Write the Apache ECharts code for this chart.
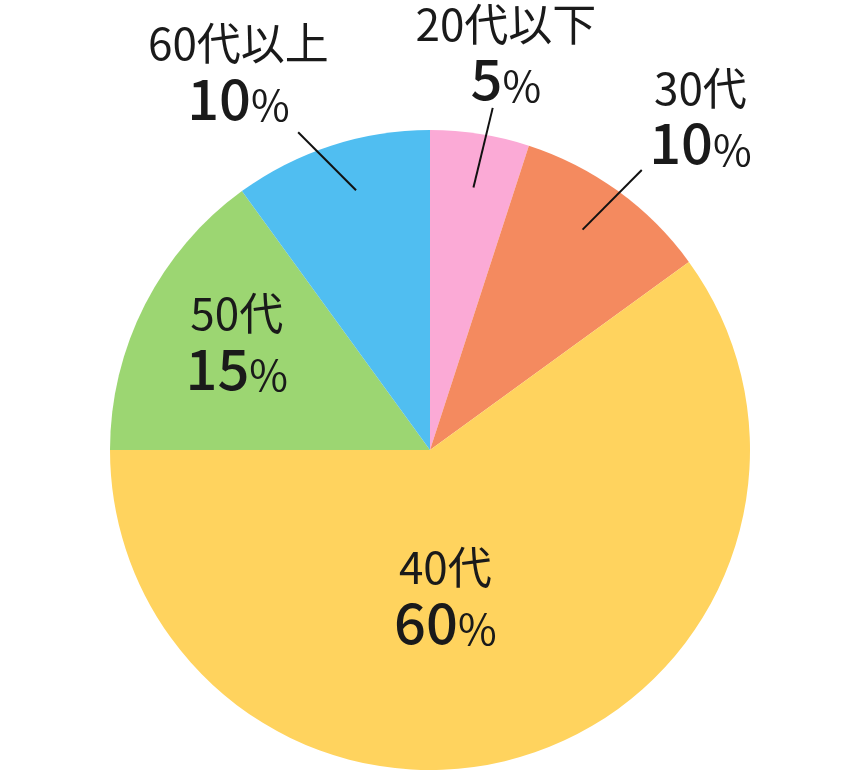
<!DOCTYPE html>
<html><head><meta charset="utf-8">
<script src="https://cdn.jsdelivr.net/npm/echarts@6/dist/echarts.min.js"></script>
<style>html,body{margin:0;padding:0;background:#fff}#c{width:860px;height:770px}</style>
</head><body><div id="c"></div>
<script>
// ---- data ----
const categories = ['20代以下', '30代', '40代', '50代', '60代以上'];
const values = [5, 10, 60, 15, 10];
const sliceColors = ['#FBAAD6', '#F48A5F', '#FFD35E', '#9CD672', '#50BEF1'];
const insideLabel = [false, false, true, true, false];

// ---- layout / style constants ----
const CX = 430, CY = 450, R = 320;
const FONT = '"Noto Sans CJK JP", "Noto Sans", sans-serif';
const TEXT_COLOR = '#1a1a1a';
// outside leader lines: start radius, start angle offset (deg), direction tilt (deg), length
const LINE_CFG = {
  0: { r: 266, da: 0.4, tilt: 4.6, len: 82 },
  1: { r: 268, da: -1.3, tilt: 8.8, len: 84 },
  4: { r: 270, da: 2.1, tilt: -26.9, len: 82 }
};
// label offsets (outside: from line end; inside: from default label centre)
const LABEL_OFF = { 0: [8, -2], 1: [55, -2], 4: [-55, -8], 2: [-35, -8], 3: [-48, -33] };

function midAngleOf(pt) { return Math.atan2(pt[0] - CX, -(pt[1] - CY)); }
function leaderLine(i, p1) {
  const mid = midAngleOf(p1);
  const L = LINE_CFG[i];
  const a0 = mid + L.da * Math.PI / 180;
  const sx = CX + L.r * Math.sin(a0), sy = CY - L.r * Math.cos(a0);
  const a1 = mid + L.tilt * Math.PI / 180;
  const ex = sx + L.len * Math.sin(a1), ey = sy - L.len * Math.cos(a1);
  return [[sx, sy], [ex, ey]];
}

const chart = echarts.init(document.getElementById('c'), null, { renderer: 'canvas' });

const pieData = categories.map(function (name, i) {
  const item = { name: name, value: values[i], itemStyle: { color: sliceColors[i] } };
  if (insideLabel[i]) item.label = { position: 'inside' };
  return item;
});

const guideData = categories.map(function (name, i) {
  const item = { name: name, value: values[i] };
  if (insideLabel[i]) {
    item.label = { show: false };
    item.labelLine = { show: false };
  }
  return item;
});

chart.setOption({
  animation: false,
  backgroundColor: '#ffffff',
  series: [{
    type: 'pie',
    z: 2,
    center: [CX, CY],
    radius: [0, R],
    startAngle: 90,
    clockwise: true,
    silent: true,
    avoidLabelOverlap: false,
    itemStyle: { borderWidth: 0 },
    emphasis: { disabled: true, scale: false },
    data: pieData,
    label: {
      show: true,
      position: 'outside',
      color: TEXT_COLOR,
      fontFamily: FONT,
      formatter: function (p) {
        return '{a|' + p.name + '}\n{b|' + p.value + '}{c|%}';
      },
      rich: {
        a: { fontSize: 44, lineHeight: 46, fontFamily: FONT, color: TEXT_COLOR },
        b: { fontSize: 56, fontWeight: 500, lineHeight: 60, verticalAlign: 'bottom', fontFamily: FONT, color: TEXT_COLOR },
        c: { fontSize: 42, lineHeight: 49, verticalAlign: 'bottom', fontFamily: FONT, color: TEXT_COLOR }
      }
    },
    labelLine: { show: false, length: 10, length2: 0 },
    labelLayout: function (p) {
      const i = p.dataIndex;
      const off = LABEL_OFF[i];
      if (insideLabel[i]) {
        const r = p.labelRect;
        return { x: r.x + r.width / 2 + off[0], y: r.y + r.height / 2 + off[1], align: 'center', verticalAlign: 'middle' };
      }
      // outer-edge anchor at the slice's mid angle, from the label's default anchor
      const lr = p.labelRect;
      const ax = p.align === 'right' ? lr.x + lr.width : lr.x;
      const ay = lr.y + lr.height / 2;
      const end = leaderLine(i, [ax, ay])[1];
      return { x: end[0] + off[0], y: end[1] + off[1], align: 'center', verticalAlign: 'bottom' };
    }
  }, {
    // transparent copy carrying only the leader lines, drawn above the slices
    type: 'pie',
    z: 5,
    center: [CX, CY],
    radius: [0, R],
    startAngle: 90,
    clockwise: true,
    silent: true,
    avoidLabelOverlap: false,
    itemStyle: { color: 'rgba(0,0,0,0)', borderWidth: 0 },
    emphasis: { disabled: true, scale: false },
    data: guideData,
    label: { show: true, position: 'outside', formatter: ' ', fontSize: 2, color: 'rgba(0,0,0,0)' },
    labelLine: { show: true, length: 10, length2: 0, lineStyle: { color: '#111111', width: 2 } },
    labelLayout: function (p) {
      const i = p.dataIndex;
      if (insideLabel[i] || !p.labelLinePoints) return {};
      return { labelLinePoints: leaderLine(i, p.labelLinePoints[0]) };
    }
  }]
});
</script>
</body></html>
